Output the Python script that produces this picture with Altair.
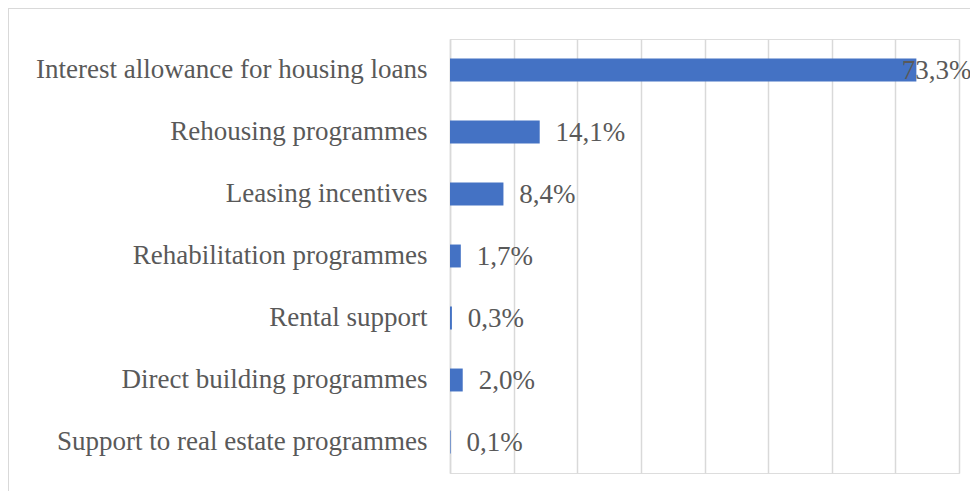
import altair as alt
import pandas as pd

categories = [
    "Interest allowance for housing loans",
    "Rehousing programmes",
    "Leasing incentives",
    "Rehabilitation programmes",
    "Rental support",
    "Direct building programmes",
    "Support to real estate programmes",
]
values = [73.3, 14.1, 8.4, 1.7, 0.3, 2.0, 0.1]
labels = ["73,3%", "14,1%", "8,4%", "1,7%", "0,3%", "2,0%", "0,1%"]
x_ticks = [0, 10, 20, 30, 40, 50, 60, 70, 80]

df = pd.DataFrame({"cat": categories, "v": values, "lab": labels})

FONT = "Liberation Serif"
TXT = "#595959"
FS = 27

y_enc = alt.Y("cat:N", sort=categories, title=None,
              scale=alt.Scale(paddingInner=0.63, paddingOuter=0.315),
              axis=alt.Axis(labelFont=FONT, labelFontSize=FS, labelColor=TXT,
                            labelPadding=23, ticks=False, domain=True,
                            domainColor="#d9d9d9", domainWidth=1.5,
                            labelLimit=500, grid=False))
x_scale = alt.Scale(domain=[0, 80], nice=False)

bars = alt.Chart(df).mark_bar(color="#4472C4").encode(
    x=alt.X("v:Q", scale=x_scale, title=None,
            axis=alt.Axis(values=x_ticks, labels=False, ticks=False, domain=False,
                          grid=True, gridColor="#d9d9d9", gridWidth=1.5)),
    y=y_enc,
)

text = alt.Chart(df).transform_calculate(
    lx="min(datum.v + 2.5, 71.0)"
).mark_text(align="left", baseline="middle", font=FONT, fontSize=FS,
            color=TXT, dy=1).encode(
    x=alt.X("lx:Q", scale=x_scale),
    y=alt.Y("cat:N", sort=categories),
    text="lab:N",
)

frame_top = alt.Chart(df).transform_filter("datum.cat == 'Rental support'").mark_rule(
    color="#d9d9d9", strokeWidth=2
).encode(x=alt.value(-442), x2=alt.value(540), y=alt.value(-31))

frame_left = alt.Chart(df).transform_filter("datum.cat == 'Rental support'").mark_rule(
    color="#d9d9d9", strokeWidth=2
).encode(x=alt.value(-442), y=alt.value(-31), y2=alt.value(470))

chart = alt.layer(frame_top, frame_left, bars, text).properties(
    width=509, height=434,
    autosize=alt.AutoSizeParams(type="none"),
    padding={"left": 442, "top": 31, "right": 11, "bottom": 18},
).configure_view(stroke=None).configure(background="white")

chart.save("out.html", embed_options={"renderer": "svg", "actions": False})
